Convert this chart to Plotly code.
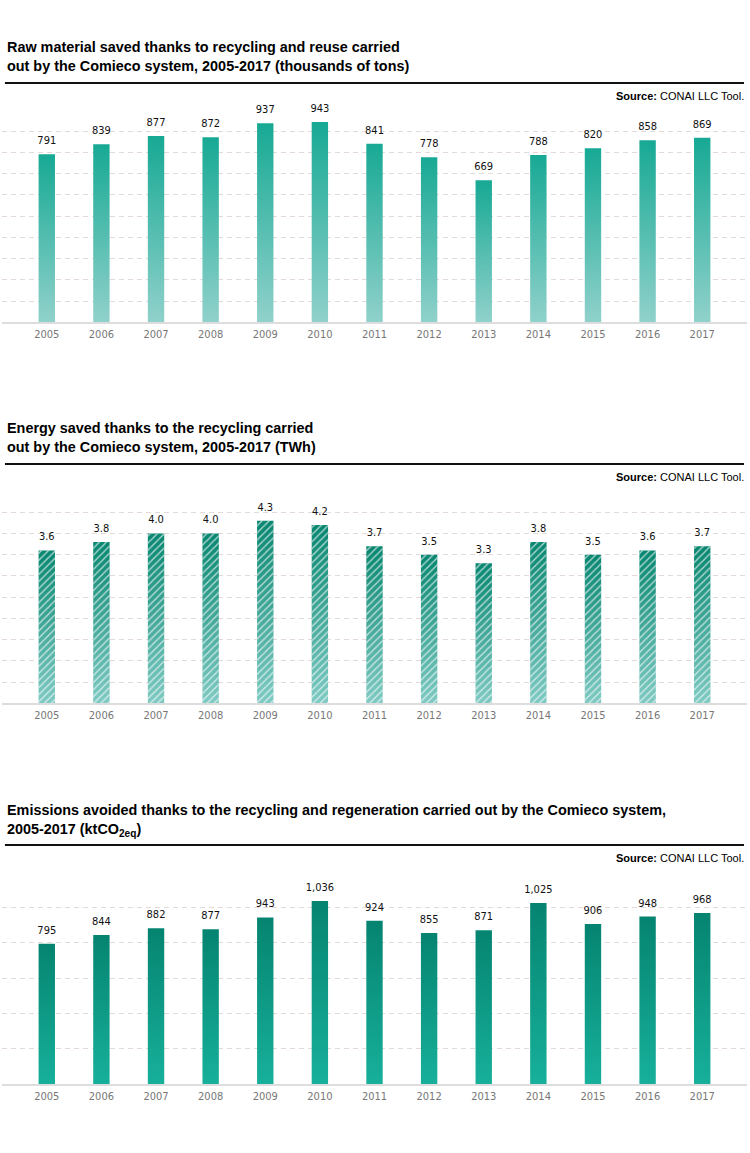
import plotly.graph_objects as go

# ---------------- data ----------------
years = ["2005", "2006", "2007", "2008", "2009", "2010", "2011",
         "2012", "2013", "2014", "2015", "2016", "2017"]
raw_material = [791, 839, 877, 872, 937, 943, 841, 778, 669, 788, 820, 858, 869]
energy = [3.6, 3.8, 4.0, 4.0, 4.3, 4.2, 3.7, 3.5, 3.3, 3.8, 3.5, 3.6, 3.7]
emissions = [795, 844, 882, 877, 943, 1036, 924, 855, 871, 1025, 906, 948, 968]

titles = [
    "Raw material saved thanks to recycling and reuse carried<br>"
    "out by the Comieco system, 2005-2017 (thousands of tons)",
    "Energy saved thanks to the recycling carried<br>"
    "out by the Comieco system, 2005-2017 (TWh)",
    "Emissions avoided thanks to the recycling and regeneration carried out by the Comieco system,<br>"
    "2005-2017 (ktCO<sub>2eq</sub>)",
]
source_text = "<b>Source:</b> CONAI LLC Tool."

# ---------------- layout helpers ----------------
W, H = 750, 1153
STEP = 381  # vertical distance between the three panels (px)


def py(px):
    return 1 - px / H


TITLE_FONT = "Liberation Sans, Arial, Helvetica, sans-serif"
NUM_FONT = "Liberation Sans Narrow, Arial Narrow, DejaVu Sans Condensed, sans-serif"
BAR_W = 0.3

panels = [
    dict(values=raw_material, yrange=[0, 1000], dtick=100,
         grad=["#90d1cb", "#17a994"], pattern=False, fmt=lambda v: f"{v:,}",
         title_dy=0),
    dict(values=energy, yrange=[0, 5], dtick=0.5,
         grad=["#7fcac3", "#078670"], pattern=True, fmt=lambda v: f"{v:.1f}",
         title_dy=0),
    dict(values=emissions, yrange=[0, 1200], dtick=200,
         grad=["#17b09b", "#058470"], pattern=False, fmt=lambda v: f"{v:,}",
         title_dy=2),
]

fig = go.Figure()
shapes = []
annotations = []
xs = list(range(len(years)))

for k, p in enumerate(panels):
    off = k * STEP
    sfx = "" if k == 0 else str(k + 1)
    xa, ya = "x" + sfx, "y" + sfx
    top, bottom = 110 + off, 322.3 + off

    # bars drawn as filled polygons (gradient) on the axis scales
    for i, v in enumerate(p["values"]):
        fig.add_trace(go.Scatter(
            x=[i - BAR_W / 2, i + BAR_W / 2, i + BAR_W / 2, i - BAR_W / 2, i - BAR_W / 2],
            y=[0, 0, v, v, 0],
            fill="toself", mode="none",
            fillgradient=dict(type="vertical",
                              colorscale=[[0, p["grad"][0]], [1, p["grad"][1]]]),
            hoverinfo="skip", showlegend=False, xaxis=xa, yaxis=ya))
    if p["pattern"]:
        px_, py_ = [], []
        for i, v in enumerate(p["values"]):
            px_ += [i - BAR_W / 2, i + BAR_W / 2, i + BAR_W / 2, i - BAR_W / 2, i - BAR_W / 2, None]
            py_ += [0, 0, v, v, 0, None]
        fig.add_trace(go.Scatter(
            x=px_, y=py_, fill="toself", mode="none",
            fillcolor="rgba(0,0,0,0)",
            fillpattern=dict(shape="/", fgcolor="rgba(255,255,255,0.65)",
                             bgcolor="rgba(0,0,0,0)", size=5, solidity=0.28,
                             fillmode="replace"),
            hoverinfo="skip", showlegend=False, xaxis=xa, yaxis=ya))

    # value labels
    fig.add_trace(go.Scatter(
        x=xs, y=p["values"], mode="markers+text",
        marker=dict(size=10, color="rgba(0,0,0,0)"),
        text=[p["fmt"](v) for v in p["values"]],
        textposition="top center", cliponaxis=False,
        textfont=dict(family=NUM_FONT, size=11, color="#111111"),
        hoverinfo="skip", showlegend=False, xaxis=xa, yaxis=ya))

    fig.update_layout(**{
        ("xaxis" + sfx): dict(
            domain=[0, 1], range=[-0.82, 12.82], anchor=ya,
            tickmode="array", tickvals=xs, ticktext=years,
            showgrid=False, zeroline=False, ticks="",
            showline=True, linecolor="#dddddd", linewidth=2,
            tickfont=dict(family=NUM_FONT, size=11, color="#777777"),
            fixedrange=True),
        ("yaxis" + sfx): dict(
            domain=[py(bottom), py(top)], range=p["yrange"], dtick=p["dtick"],
            anchor=xa, showgrid=True, gridcolor="#e4d9d9", gridwidth=1,
            griddash="5px,4px", showticklabels=False, zeroline=False,
            ticks="", fixedrange=True),
    })

    # title, rule and source
    annotations.append(dict(
        text="<b>" + titles[k] + "</b>", xref="paper", yref="paper",
        x=0.004, y=py(56.5 + off + p["title_dy"]), xanchor="left", yanchor="middle",
        align="left", showarrow=False,
        font=dict(family=TITLE_FONT, size=14.4, color="#000000")))
    shapes.append(dict(type="line", xref="paper", yref="paper",
                       x0=0.004, x1=0.996, y0=py(83 + off), y1=py(83 + off),
                       line=dict(color="#111111", width=2)))
    annotations.append(dict(
        text=source_text, xref="paper", yref="paper",
        x=0.998, y=py(96 + off), xanchor="right", yanchor="middle",
        showarrow=False,
        font=dict(family=TITLE_FONT, size=11, color="#000000")))

fig.update_layout(
    width=W, height=H,
    margin=dict(l=2, r=3, t=0, b=0),
    paper_bgcolor="white", plot_bgcolor="white",
    shapes=shapes, annotations=annotations,
    showlegend=False,
)

fig.write_html("out.html", config={"displayModeBar": False},
               post_script="document.body.style.margin='0';")
